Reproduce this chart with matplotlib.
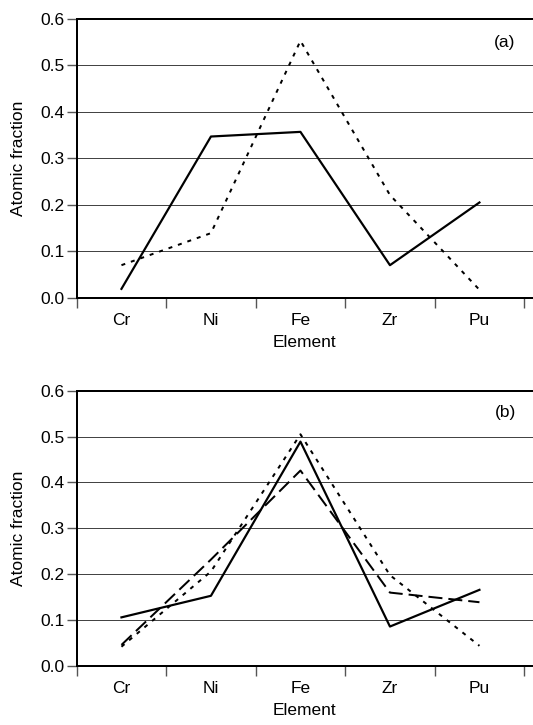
import matplotlib
matplotlib.use("Agg")
import matplotlib.pyplot as plt
import numpy as np

plt.rcParams['font.family'] = ['Liberation Sans', 'DejaVu Sans']

elements = ["Cr", "Ni", "Fe", "Zr", "Pu"]

# Panel (a)
a_solid = [0.019, 0.347, 0.357, 0.070, 0.205]
a_dotted = [0.070, 0.139, 0.553, 0.221, 0.017]

# Panel (b)
b_solid = [0.106, 0.153, 0.489, 0.086, 0.166]
b_dotted = [0.042, 0.206, 0.505, 0.198, 0.044]
b_dashed = [0.046, 0.232, 0.426, 0.160, 0.139]

yticks = [0.0, 0.1, 0.2, 0.3, 0.4, 0.5, 0.6]

W, H = 533, 725
FS = 12.5
fig = plt.figure(figsize=(W / 100, H / 100), dpi=100)

left = 76.7 / W
right = 1.0
ax_a = fig.add_axes([left, 1 - 297.7 / H, right - left, (297.7 - 19) / H])
ax_b = fig.add_axes([left, 1 - 666 / H, right - left, (666 - 390.7) / H])

px = 72 / 100  # points per pixel


def style(ax, label, label_y):
    x = np.arange(len(elements))
    ax.set_xlim(-0.5, -0.5 + (W - 76.7) / 89.5)
    ax.set_ylim(0, 0.6)
    ax.set_yticks(yticks)
    ax.set_yticklabels([f"{v:.1f}" for v in yticks])
    for v in yticks[1:-1]:
        ax.axhline(v, color="#444444", lw=1.0 * px, zorder=1)
    ax.axhline(0.6, color="black", lw=2.0 * px, zorder=1, clip_on=False)
    for s in ["top", "right"]:
        ax.spines[s].set_visible(False)
    ax.spines["left"].set_linewidth(2.0 * px)
    ax.spines["bottom"].set_linewidth(2.0 * px)
    ax.set_xticks(np.arange(-0.5, len(elements), 1.0))
    ax.set_xticklabels([])
    ax.set_xticks(x, minor=True)
    ax.set_xticklabels(elements, minor=True)
    ax.tick_params(axis="x", which="major", length=7, width=1.0, color="#555555", direction="out")
    ax.tick_params(axis="x", which="minor", length=0, labelsize=FS, pad=11)
    ax.tick_params(axis="y", length=7, width=1.0, color="#555555", labelsize=FS, pad=2)
    ax.set_xlabel("Element", fontsize=FS, labelpad=5)
    ax.set_ylabel("Atomic fraction", fontsize=FS)
    ax.yaxis.set_label_coords(-0.112, 0.5)
    ax.text(0.9387, label_y, label, transform=ax.transAxes, fontsize=FS,
            ha="center", va="center")
    return x


x = style(ax_a, "(a)", 0.914)
ax_a.plot(x, a_solid, color="black", lw=2.2 * px, zorder=3)
ax_a.plot(x, a_dotted, color="black", lw=2.0 * px, dashes=(2.0, 3.0), zorder=3)

x = style(ax_b, "(b)", 0.92)
ax_b.plot(x, b_solid, color="black", lw=2.2 * px, zorder=3)
ax_b.plot(x, b_dotted, color="black", lw=2.0 * px, dashes=(2.0, 3.0), zorder=3)
ax_b.plot(x, b_dashed, color="black", lw=2.0 * px, dashes=(7.0, 3.0), zorder=3)

fig.savefig("out.png", dpi=100)
